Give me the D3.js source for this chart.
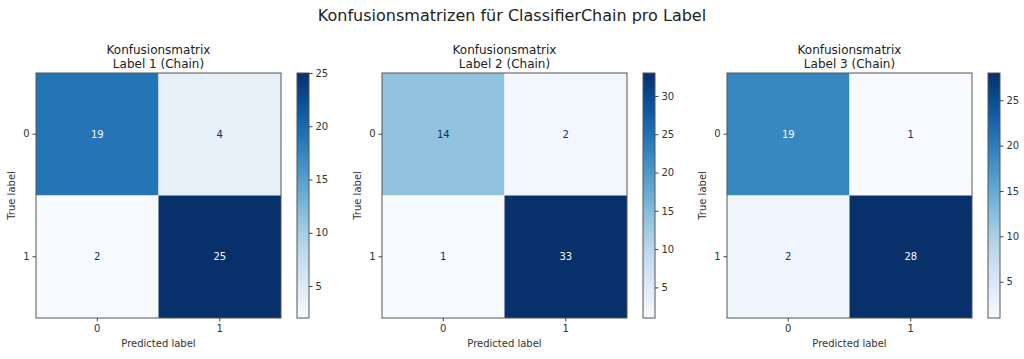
<!DOCTYPE html>
<html>
<head>
<meta charset="utf-8">
<script src="https://cdn.jsdelivr.net/npm/d3@7"></script>
<style>
  html, body { margin: 0; padding: 0; background: #fff; }
  svg { display: block; font-family: "DejaVu Sans", sans-serif; }
</style>
</head>
<body>
<svg id="chart" width="1024" height="359"></svg>
<script>
// ---- data ----
const suptitle = "Konfusionsmatrizen für ClassifierChain pro Label";
const panelTitles = ["Label 1 (Chain)", "Label 2 (Chain)", "Label 3 (Chain)"];
const classLabels = ["0", "1"];
const matrixLabel1 = [[19, 4], [2, 25]];
const matrixLabel2 = [[14, 2], [1, 33]];
const matrixLabel3 = [[19, 1], [2, 28]];
const colorbarTicks1 = [5, 10, 15, 20, 25];
const colorbarTicks2 = [5, 10, 15, 20, 25, 30];
const colorbarTicks3 = [5, 10, 15, 20, 25];

const matrices = [matrixLabel1, matrixLabel2, matrixLabel3];
const cbTicks = [colorbarTicks1, colorbarTicks2, colorbarTicks3];

// ---- layout ----
const svg = d3.select("#chart");
const panelLeft = [36, 382, 727];
const matTop = 73, matSize = 245;
const cbGap = 16, cbWidth = 12;

svg.append("text")
  .attr("x", 512).attr("y", 21)
  .attr("text-anchor", "middle")
  .attr("font-size", 16).attr("fill", "#222")
  .text(suptitle);

const defs = svg.append("defs");

matrices.forEach((m, i) => {
  const vals = m.flat();
  const vmin = d3.min(vals), vmax = d3.max(vals);
  const color = d3.scaleSequential(d3.interpolateBlues).domain([vmin, vmax]);
  const thresh = (vmin + vmax) / 2;

  const x0 = panelLeft[i];
  const g = svg.append("g").attr("transform", `translate(${x0},${matTop})`);

  const xs = d3.scaleBand().domain(classLabels).range([0, matSize]);
  const ys = d3.scaleBand().domain(classLabels).range([0, matSize]);

  const cells = [];
  m.forEach((row, r) => row.forEach((v, c) => cells.push({r, c, v})));

  g.selectAll("rect.cell").data(cells).enter().append("rect")
    .attr("class", "cell")
    .attr("x", d => xs(classLabels[d.c]))
    .attr("y", d => ys(classLabels[d.r]))
    .attr("width", xs.bandwidth())
    .attr("height", ys.bandwidth())
    .attr("fill", d => color(d.v));

  g.selectAll("text.val").data(cells).enter().append("text")
    .attr("class", "val")
    .attr("x", d => xs(classLabels[d.c]) + xs.bandwidth() / 2)
    .attr("y", d => ys(classLabels[d.r]) + ys.bandwidth() / 2)
    .attr("dy", "0.35em")
    .attr("text-anchor", "middle")
    .attr("font-size", 10)
    .attr("fill", d => d.v > thresh ? "#f7fbff" : "#08306b")
    .text(d => d.v);

  // frame
  g.append("rect").attr("width", matSize).attr("height", matSize)
    .attr("fill", "none").attr("stroke", "#555").attr("stroke-width", 1);

  // axes
  const xAxis = g.append("g").attr("transform", `translate(0,${matSize})`)
    .call(d3.axisBottom(xs).tickSize(3.5).tickPadding(3));
  const yAxis = g.append("g")
    .call(d3.axisLeft(ys).tickSize(3.5).tickPadding(3));
  [xAxis, yAxis].forEach(a => {
    a.select(".domain").remove();
    a.selectAll("line").attr("stroke", "#444");
    a.selectAll("text").attr("font-size", 10).attr("fill", "#333")
      .attr("font-family", "DejaVu Sans, sans-serif");
  });

  g.append("text")
    .attr("x", matSize / 2).attr("y", matSize + 29)
    .attr("text-anchor", "middle").attr("font-size", 10).attr("fill", "#333")
    .text("Predicted label");
  g.append("text")
    .attr("transform", `translate(-21,${matSize / 2}) rotate(-90)`)
    .attr("text-anchor", "middle").attr("font-size", 10).attr("fill", "#333")
    .text("True label");

  // titles
  g.append("text")
    .attr("x", matSize / 2).attr("y", -19)
    .attr("text-anchor", "middle").attr("font-size", 12).attr("fill", "#222")
    .text("Konfusionsmatrix");
  g.append("text")
    .attr("x", matSize / 2).attr("y", -5)
    .attr("text-anchor", "middle").attr("font-size", 12).attr("fill", "#222")
    .text(panelTitles[i]);

  // colorbar
  const gradId = "grad" + i;
  const grad = defs.append("linearGradient").attr("id", gradId)
    .attr("x1", 0).attr("y1", 1).attr("x2", 0).attr("y2", 0);
  d3.range(0, 1.0001, 0.05).forEach(t => {
    grad.append("stop").attr("offset", t)
      .attr("stop-color", color(vmin + t * (vmax - vmin)));
  });
  const cbX = x0 + matSize + cbGap;
  const cb = svg.append("g").attr("transform", `translate(${cbX},${matTop})`);
  cb.append("rect").attr("width", cbWidth).attr("height", matSize)
    .attr("fill", `url(#${gradId})`)
    .attr("stroke", "#555").attr("stroke-width", 1);
  const cs = d3.scaleLinear().domain([vmin, vmax]).range([matSize, 0]);
  const cAxis = cb.append("g").attr("transform", `translate(${cbWidth},0)`)
    .call(d3.axisRight(cs).tickValues(cbTicks[i]).tickSize(3.5).tickPadding(3));
  cAxis.select(".domain").remove();
  cAxis.selectAll("line").attr("stroke", "#444");
  cAxis.selectAll("text").attr("font-size", 10).attr("fill", "#333")
    .attr("font-family", "DejaVu Sans, sans-serif");
});
</script>
</body>
</html>
